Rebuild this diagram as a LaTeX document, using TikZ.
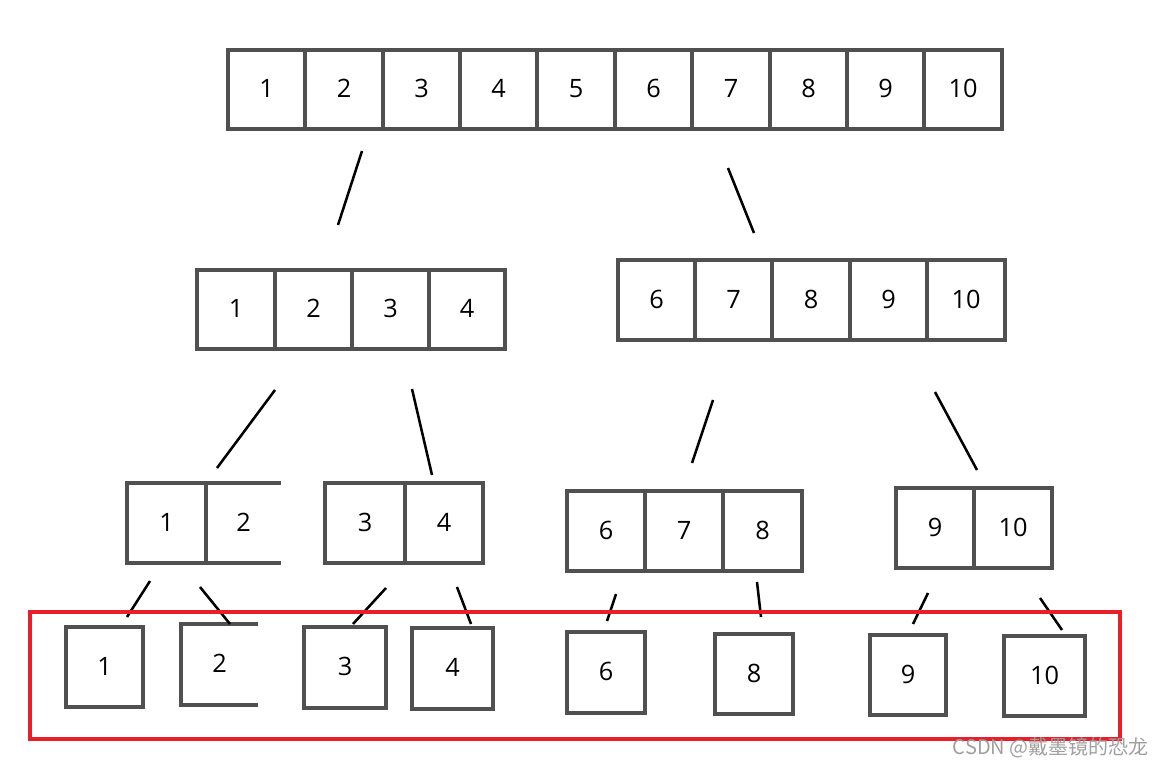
\documentclass[tikz,border=0pt]{standalone}
\usepackage{fontspec}
\setmainfont{Open Sans}
\newfontfamily\cjkfont{Noto Sans CJK SC}
\definecolor{boxgray}{RGB}{80,80,80}
\definecolor{markred}{RGB}{232,30,40}
\tikzset{
  cell/.style={draw=boxgray, line width=2.3pt, rectangle, inner sep=0pt, outer sep=0pt,
    font=\fontsize{19}{22}\selectfont, fill=white},
  opencell/.style={cell, draw=none},
  boxline/.style={draw=boxgray, line width=2.3pt},
  link/.style={draw=black, line width=1.9pt},
  frame/.style={draw=markred, line width=3.2pt}
}
\newcommand\cellbox[7][cell]{\node[#1, minimum width={(#5-#3)*0.75pt}, minimum height={(#6-#4)*0.75pt}] (#2) at ({(#3+#5)/2},{(#4+#6)/2}) {\raisebox{1.5pt}{#7}};}
\begin{document}
\begin{tikzpicture}[x=0.75pt,y=-0.75pt]
\path[use as bounding box] (0,0) rectangle (1163,766);
% top row
\foreach \a/\b/\t in {228/305/1,305/383/2,383/460/3,460/537/4,537/615/5,615/692/6,692/770/7,770/847/8,847/924/9,924/1002/10}
  {\cellbox{top\t}{\a}{50}{\b}{129}{\t}}
% level 2
\foreach \a/\b/\t in {197/275/1,275/352/2,352/429/3,429/505/4}
  {\cellbox{l\t}{\a}{270}{\b}{349}{\t}}
\foreach \a/\b/\t in {618/695/6,695/772/7,772/850/8,850/927/9,927/1005/10}
  {\cellbox{r\t}{\a}{260}{\b}{340}{\t}}
% level 3
\cellbox{m1}{127}{483}{206}{563}{1}
\cellbox[opencell]{m2}{206}{483}{281}{563}{2}
\draw[boxline] (m2.north east) -- (m2.north west) -- (m2.south west) -- (m2.south east);
\foreach \a/\b/\t in {325/405/3,405/483/4}
  {\cellbox{m\t}{\a}{483}{\b}{563}{\t}}
\foreach \a/\b/\t in {567/645/6,645/723/7,723/802/8}
  {\cellbox{m\t}{\a}{491}{\b}{571}{\t}}
\foreach \a/\b/\t in {896/974/9,974/1052/10}
  {\cellbox{m\t}{\a}{488}{\b}{568}{\t}}
% bottom
\cellbox{b1}{66}{627}{143}{707}{1}
\cellbox[opencell]{b2}{181}{624}{258}{705}{2}
\draw[boxline] (b2.north east) -- (b2.north west) -- (b2.south west) -- (b2.south east);
\cellbox{b3}{304}{627}{386}{708}{3}
\cellbox{b4}{412}{628}{493}{709}{4}
\cellbox{b6}{567}{632}{645}{713}{6}
\cellbox{b8}{715}{634}{793}{714}{8}
\cellbox{b9}{870}{635}{946}{715}{9}
\cellbox{b10}{1004}{636}{1085}{716}{10}
% connectors
\foreach \n/\xa/\ya/\xb/\yb in {
  c1/362/151/338/225, c2/728/168/754/233,
  c3/275/390/217/468, c4/412/389/432/475,
  c5/713/400/692/463, c6/935/392/977/470,
  c7/150/581/127/617, c8/200/587/230/624,
  c9/386/588/353/624, c10/457/587/471/624,
  c11/616/594/607/621, c12/757/582/761/617,
  c13/928/593/913/624, c14/1040/598/1062/630}
{
  \coordinate (\n s) at (\xa,\ya);
  \coordinate (\n e) at (\xb,\yb);
  \draw[link] (\n s) -- (\n e);
}
% red frame
\node[frame, rectangle, inner sep=0pt, minimum width={(1120-30)*0.75pt}, minimum height={(739-612)*0.75pt}] (redframe) at (575,675.5) {};
% watermark
\node[anchor=east, text=gray!75, font=\cjkfont\fontsize{15}{17}\selectfont, inner sep=0pt] (wm) at (1149,748) {CSDN @戴墨镜的恐龙};
\end{tikzpicture}
\end{document}
